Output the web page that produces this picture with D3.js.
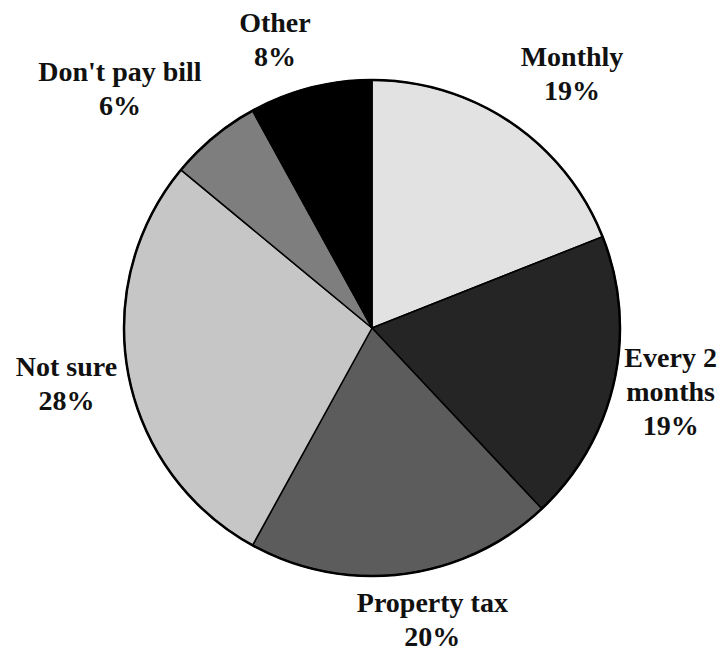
<!DOCTYPE html>
<html lang="en">
<head>
  <meta charset="UTF-8">
  <script src="https://cdnjs.cloudflare.com/ajax/libs/d3/7.8.5/d3.min.js"></script>
  <title>Water bill payment</title>
  <style>
    body { margin: 0; background: #ffffff; }
    svg { display: block; }
    .slice { stroke: #000000; stroke-width: 1.5; stroke-linejoin: round; }
    .lbl { font-family: "Book Antiqua", "Palatino Linotype", Palatino, "Liberation Serif", serif;
           font-weight: bold; font-size: 28px; fill: #111111; }
  </style>
</head>
<body>

<div id="piechart"></div>

<script>
  // data, clockwise from 12 o'clock
  var categories = ["Monthly", "Every 2 months", "Property tax", "Not sure", "Don't pay bill", "Other"];
  var values = [19, 19, 20, 28, 6, 8];
  var labelLines = [["Monthly"], ["Every 2", "months"], ["Property tax"], ["Not sure"], ["Don't pay bill"], ["Other"]];
  var fills = ["#e2e2e2", "#252525", "#5c5c5c", "#c6c6c6", "#7e7e7e", "#000000"];

  var dataset = categories.map(function(c, i) {
    return {name: c, value: values[i], lines: labelLines[i].concat([values[i] + "%"]), fill: fills[i]};
  });

  var width = 721, height = 653;
  var cx = 372, cy = 328, radius = 248;
  var labelRadius = 306, lineGap = 34;

  // small hand nudges so labels sit where the original had them
  var nudge = {
    "Monthly": [28, 8],
    "Every 2 months": [0, 6],
    "Property tax": [22, -3],
    "Not sure": [-5, 8],
    "Don't pay bill": [-57, 6],
    "Other": [-21, 17]
  };

  var svg = d3.select("#piechart")
    .append("svg")
    .attr("width", width)
    .attr("height", height);

  var g = svg.append("g")
    .attr("transform", "translate(" + cx + "," + cy + ")");

  var pie = d3.pie()
    .sort(null)
    .value(function(d) { return d.value; });

  var arc = d3.arc().innerRadius(0).outerRadius(radius);
  var labelArc = d3.arc().innerRadius(labelRadius).outerRadius(labelRadius);

  var arcs = pie(dataset);

  g.selectAll(".slice")
    .data(arcs)
    .enter()
    .append("path")
    .attr("class", "slice")
    .attr("d", arc)
    .attr("fill", function(d) { return d.data.fill; });

  // heavier outer rim
  g.append("circle")
    .attr("r", radius)
    .attr("fill", "none")
    .attr("stroke", "#000")
    .attr("stroke-width", 2.5);

  // labels
  var labels = g.selectAll(".lbl")
    .data(arcs)
    .enter()
    .append("text")
    .attr("class", "lbl")
    .attr("text-anchor", "middle")
    .attr("transform", function(d) {
      var c = labelArc.centroid(d);
      var n = nudge[d.data.name];
      return "translate(" + (c[0] + n[0]) + "," + (c[1] + n[1]) + ")";
    });

  labels.selectAll("tspan")
    .data(function(d) {
      var k = d.data.lines.length;
      return d.data.lines.map(function(t, i) { return {t: t, dy: (i - (k - 1) / 2) * lineGap}; });
    })
    .enter()
    .append("tspan")
    .attr("x", 0)
    .attr("y", function(d) { return d.dy; })
    .text(function(d) { return d.t; });
</script>

</body>
</html>
